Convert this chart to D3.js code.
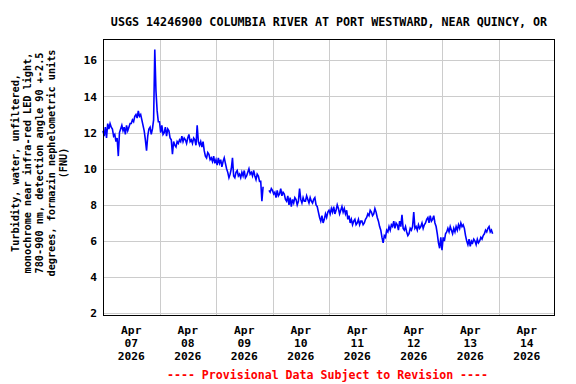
<!DOCTYPE html>
<html>
<head>
<meta charset="utf-8">
<script src="https://cdn.jsdelivr.net/npm/d3@7"></script>
<style>
  html, body { margin: 0; padding: 0; background: #fff; }
  svg { display: block; }
  text { font-family: "DejaVu Sans Mono", "Liberation Mono", monospace; font-weight: bold; }
</style>
</head>
<body>
<svg id="chart" width="576" height="384"></svg>
<script>
// ---- Data (30-minute readings, FNU) ----
const title = "USGS 14246900 COLUMBIA RIVER AT PORT WESTWARD, NEAR QUINCY, OR";
const yLabelLines = [
  "Turbidity, water, unfiltered,",
  "monochrome near infra-red LED light,",
  "780-900 nm, detection angle 90 +-2.5",
  "degrees, formazin nephelometric units",
  "(FNU)"
];
const footer = "---- Provisional Data Subject to Revision ----";
const yTicks = [2, 4, 6, 8, 10, 12, 14, 16];
const dayLabels = [
  ["Apr", "07", "2026"], ["Apr", "08", "2026"], ["Apr", "09", "2026"], ["Apr", "10", "2026"],
  ["Apr", "11", "2026"], ["Apr", "12", "2026"], ["Apr", "13", "2026"], ["Apr", "14", "2026"]
];
const startDate = "2026-04-07T00:00:00Z";
const endDate = "2026-04-15T00:00:00Z";

const apr07 = [12.1, 11.8, 12.3, 11.7, 12.5, 12.2, 12.5, 12.3, 12.2, 11.8, 11.9, 11.5,
               11.7, 10.7, 12.0, 12.2, 12.4, 12.1, 12.3, 11.9, 12.4, 12.1, 12.3, 12.5,
               12.5, 12.7, 12.6, 12.9, 13.0, 12.8, 13.2, 12.9, 13.0, 12.7, 12.4, 12.1,
               11.6, 11.0, 11.8, 12.2, 12.3, 11.9, 12.2, 12.7, 16.6, 14.3, 13.2, 12.6];
const apr08 = [12.6, 12.0, 12.4, 11.9, 12.0, 12.3, 11.8, 12.2, 12.1, 11.7, 11.6, 10.8,
               11.5, 11.3, 11.2, 11.5, 11.4, 11.6, 11.5, 11.8, 11.5, 11.7, 11.6, 11.4,
               11.7, 11.9, 11.5, 11.6, 11.4, 11.7, 11.6, 11.3, 12.4, 11.5, 11.3, 11.5,
               11.2, 11.5, 11.0, 10.7, 10.6, 10.9, 10.8, 10.5, 10.6, 10.4, 10.7, 10.3];
const apr09 = [10.5, 10.2, 10.6, 10.3, 10.5, 10.1, 10.4, 10.6, 10.3, 10.0, 9.8, 9.5,
               9.7, 10.0, 10.6, 9.6, 9.5, 9.8, 9.9, 9.6, 9.7, 9.5, 9.8, 9.6,
               9.9, 9.5, 9.6, 9.8, 10.0, 9.7, 9.8, 9.6, 9.9, 9.6, 9.4, 9.7,
               9.6, 9.3, 9.3, 8.2, 9.0, null, null, null, null, 8.8, 8.7, 8.9];
const apr10 = [8.8, 8.6, 8.7, 8.4, 8.8, 8.5, 8.6, 8.9, 8.5, 8.7, 8.6, 8.3,
               8.2, 8.5, 8.0, 8.4, 7.9, 8.3, 8.1, 8.4, 8.3, 8.0, 8.2, 8.9,
               8.3, 8.1, 8.4, 8.2, 8.2, 8.5, 8.3, 8.1, 8.4, 8.2, 8.1, 8.3,
               8.4, 8.0, 7.9, 7.6, 7.3, 7.1, 7.4, 7.0, 7.2, 7.5, 7.3, 7.6];
const apr11 = [7.7, 7.5, 7.8, 7.6, 7.9, 7.5, 7.7, 8.0, 7.8, 7.5, 7.7, 7.9,
               7.6, 7.8, 7.5, 7.7, 7.2, 7.4, 7.0, 7.2, 6.9, 7.1, 7.2, 6.9,
               7.0, 7.2, 6.9, 7.1, 7.1, 6.9, 7.0, 7.2, 7.3, 7.5, 7.4, 7.7,
               7.6, 7.4, 7.5, 7.8, 7.6, 7.3, 7.1, 6.8, 6.6, 6.2, 5.9, 6.3];
const apr12 = [6.2, 6.6, 6.5, 6.8, 6.6, 6.9, 6.8, 7.1, 6.7, 7.0, 6.9, 6.6,
               7.1, 6.8, 7.45, 6.7, 6.6, 6.8, 6.5, 6.3, 6.4, 6.7, 6.6, 6.8,
               7.6, 6.7, 6.8, 6.6, 6.9, 6.7, 6.8, 7.0, 6.7, 6.9, 7.0, 7.2,
               7.3, 7.0, 7.4, 7.1, 7.2, 7.4, 7.0, 6.8, 6.4, 5.9, 5.6, 6.2];
const apr13 = [5.5, 6.2, 6.0, 6.4, 6.5, 6.7, 6.5, 6.8, 6.6, 6.4, 6.7, 6.5,
               6.8, 6.6, 6.9, 6.7, 7.0, 6.8, 6.9, 6.7, 6.3, 6.0, 5.8, 6.1,
               5.7, 6.0, 5.9, 6.1, 6.0, 5.8, 6.1, 5.9, 6.0, 6.2, 6.1, 6.3,
               6.4, 6.6, 6.5, 6.7, 6.8, 6.5, 6.6, 6.4];
const days = [apr07, apr08, apr09, apr10, apr11, apr12, apr13];

// ---- Build series ----
const t0 = new Date(startDate).getTime();
const series = [];
days.forEach((vals, d) => {
  vals.forEach((v, i) => {
    series.push({ t: new Date(t0 + d * 86400000 + i * 1800000), v: v });
  });
});

// ---- Layout ----
const svg = d3.select("#chart");
const L = 103, R = 555, T = 40, B = 316;

const x = d3.scaleTime().domain([new Date(startDate), new Date(endDate)]).range([L, R]);
const y = d3.scaleLinear().domain([1.851, 17.123]).range([B, T]);

// grid
const gridX = d3.range(1, 8).map(d => new Date(t0 + d * 86400000));
svg.append("g").selectAll("line").data(gridX).join("line")
  .attr("x1", d => Math.round(x(d)) + 0.5).attr("x2", d => Math.round(x(d)) + 0.5)
  .attr("y1", T).attr("y2", B)
  .attr("stroke", "#cccccc").attr("stroke-width", 1);
svg.append("g").selectAll("line").data(yTicks).join("line")
  .attr("x1", L).attr("x2", R - 1)
  .attr("y1", d => Math.round(y(d)) + 0.5).attr("y2", d => Math.round(y(d)) + 0.5)
  .attr("stroke", "#cccccc").attr("stroke-width", 1);

// data line
const line = d3.line()
  .defined(d => d.v !== null)
  .x(d => x(d.t))
  .y(d => y(d.v));
svg.append("path").datum(series)
  .attr("d", line)
  .attr("fill", "none")
  .attr("stroke", "#0000ff")
  .attr("stroke-width", 1.6);

// frame
svg.append("rect")
  .attr("x", L + 0.5).attr("y", T - 0.5)
  .attr("width", R - L - 1).attr("height", B - T)
  .attr("fill", "none").attr("stroke", "#000").attr("stroke-width", 1);

// y tick labels
svg.append("g").selectAll("text").data(yTicks).join("text")
  .attr("x", 97).attr("y", d => y(d))
  .attr("dy", "0.36em")
  .attr("text-anchor", "end")
  .attr("font-size", "11.3px")
  .attr("fill", "#000")
  .text(d => d);

// x tick labels (centered at noon of each day)
const xl = svg.append("g");
dayLabels.forEach((lab, d) => {
  const cx = x(new Date(t0 + d * 86400000 + 43200000));
  lab.forEach((s, k) => {
    xl.append("text")
      .attr("x", cx).attr("y", 334 + k * 12.8)
      .attr("text-anchor", "middle")
      .attr("font-size", "11.3px")
      .attr("fill", "#000")
      .text(s);
  });
});

// title
svg.append("text")
  .attr("x", (L + R) / 2).attr("y", 26)
  .attr("text-anchor", "middle")
  .attr("font-size", "11.7px")
  .attr("fill", "#000")
  .text(title);

// y axis label
const yl = svg.append("g").attr("transform", "translate(0,163) rotate(-90)");
yLabelLines.forEach((s, k) => {
  yl.append("text")
    .attr("x", 0).attr("y", 18.5 + k * 12.1)
    .attr("text-anchor", "middle")
    .attr("font-size", "10.2px")
    .attr("fill", "#000")
    .text(s);
});

// footer
svg.append("text")
  .attr("x", 327.5).attr("y", 379)
  .attr("text-anchor", "middle")
  .attr("font-size", "11.6px")
  .attr("fill", "#ff0000")
  .text(footer);
</script>
</body>
</html>
